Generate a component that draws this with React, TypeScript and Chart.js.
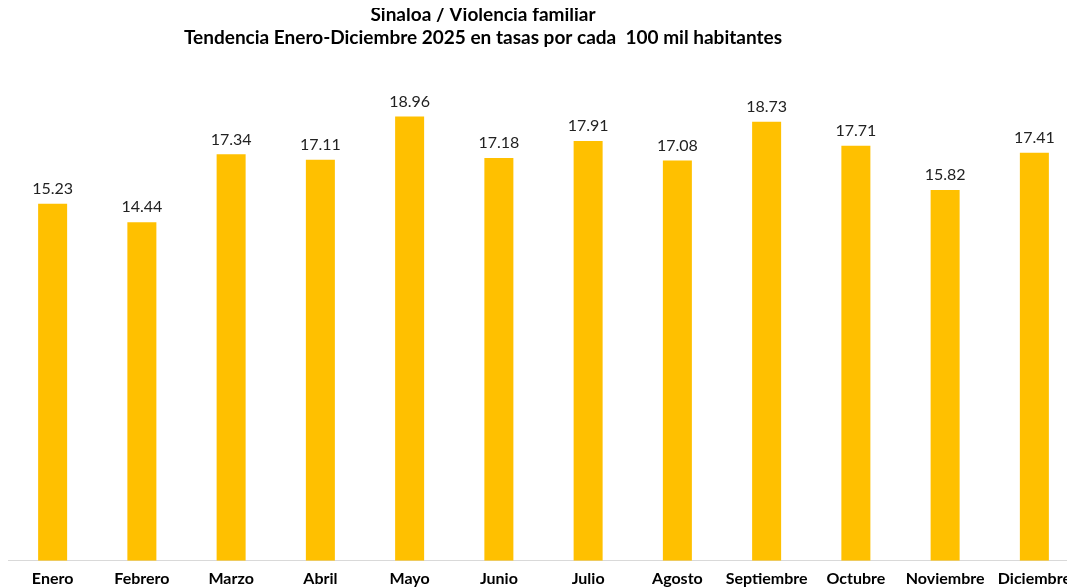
import React, { useEffect, useRef } from "react";
import { Chart, registerables } from "chart.js";

Chart.register(...registerables);

const months = ["Enero", "Febrero", "Marzo", "Abril", "Mayo", "Junio", "Julio", "Agosto", "Septiembre", "Octubre", "Noviembre", "Diciembre"];
const rates = [15.23, 14.44, 17.34, 17.11, 18.96, 17.18, 17.91, 17.08, 18.73, 17.71, 15.82, 17.41];
const titleLines = ["Sinaloa / Violencia familiar", "Tendencia Enero-Diciembre 2025 en tasas por cada  100 mil habitantes"];

const FONT = "Lato, 'Open Sans', sans-serif";

const titlePlugin = {
  id: "customTitle",
  afterDraw(chart: any) {
    const ctx = chart.ctx;
    ctx.save();
    ctx.fillStyle = "#000";
    ctx.textAlign = "center";
    ctx.textBaseline = "middle";
    ctx.font = `bold 19px ${FONT}`;
    ctx.fillText(titleLines[0], 475, 7);
    ctx.fillText(titleLines[1], 475, 30);
    ctx.restore();
  },
};

const valueLabelPlugin = {
  id: "valueLabels",
  afterDatasetsDraw(chart: any) {
    const ctx = chart.ctx;
    const meta = chart.getDatasetMeta(0);
    ctx.save();
    ctx.fillStyle = "#222";
    ctx.textAlign = "center";
    ctx.textBaseline = "middle";
    ctx.font = `16px ${FONT}`;
    meta.data.forEach((el: any, i: number) => {
      ctx.fillText(rates[i].toFixed(2), el.x, el.y - 15);
    });
    ctx.restore();
  },
};

export default function App() {
  const ref = useRef<HTMLCanvasElement | null>(null);
  useEffect(() => {
    if (!ref.current) return;
    const chart = new Chart(ref.current, {
      type: "bar",
      data: {
        labels: months,
        datasets: [
          {
            data: rates,
            backgroundColor: "#FFC000",
            categoryPercentage: 1,
            barPercentage: 0.325,
          },
        ],
      },
      options: {
        animation: false,
        responsive: false,
        maintainAspectRatio: false,
        layout: { padding: { top: 84, left: 0, right: 0, bottom: 0 } },
        plugins: { legend: { display: false }, tooltip: { enabled: false }, title: { display: false } },
        scales: {
          x: {
            grid: { display: false, drawTicks: false },
            border: { display: true, color: "#d9d9d9", width: 1 },
            ticks: { color: "#000", padding: 8, font: { family: FONT, size: 16, weight: "bold" }, maxRotation: 0, autoSkip: false },
          },
          y: {
            display: false,
            min: 0,
            max: 20,
          },
        },
      },
      plugins: [titlePlugin, valueLabelPlugin],
    });
    return () => chart.destroy();
  }, []);
  return (
    <div style={{ width: 1067, height: 580, overflow: "hidden" }}>
      <canvas ref={ref} width={1071} height={588} style={{ display: "block" }} />
    </div>
  );
}
